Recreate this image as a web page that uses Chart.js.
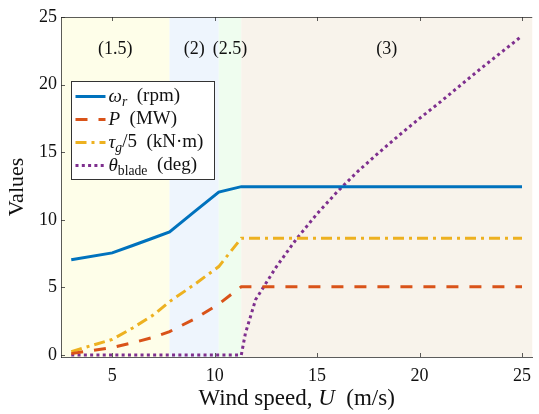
<!DOCTYPE html>
<html>
<head>
<meta charset="utf-8">
<script src="https://cdn.jsdelivr.net/npm/chart.js@4/dist/chart.umd.min.js"></script>
<style>
  html, body { margin: 0; padding: 0; background: #fff; }
  #wrap { position: relative; width: 539px; height: 414px; }
</style>
</head>
<body>
<div id="wrap"><canvas id="turbineChart" width="539" height="414"></canvas></div>
<script>
// dados
const windSpeed = [3, 5, 6, 7, 7.8, 9, 10.2, 11.3, 11.5, 12, 13, 14, 15, 16, 17, 18, 19, 20, 21, 22, 23, 24, 25];
const rotorSpeed = [7.05, 7.55, 8.1, 8.65, 9.1, 10.58, 12.05, 12.45, 12.45, 12.45, 12.45, 12.45, 12.45, 12.45, 12.45, 12.45, 12.45, 12.45, 12.45, 12.45, 12.45, 12.45, 12.45];
const power = [0.1, 0.55, 0.9, 1.3, 1.73, 2.65, 3.77, 5.05, 5.05, 5.05, 5.05, 5.05, 5.05, 5.05, 5.05, 5.05, 5.05, 5.05, 5.05, 5.05, 5.05, 5.05, 5.05];
const torque = [0.25, 1.15, 2.0, 2.95, 3.95, 5.2, 6.54, 8.64, 8.64, 8.64, 8.64, 8.64, 8.64, 8.64, 8.64, 8.64, 8.64, 8.64, 8.64, 8.64, 8.64, 8.64, 8.64];
const pitch = [0, 0, 0, 0, 0, 0, 0, 0, 1.6, 4.1, 6.5, 8.6, 10.45, 12.1, 13.6, 14.95, 16.25, 17.5, 18.7, 19.95, 21.2, 22.4, 23.6];

const xTicks = [5, 10, 15, 20, 25];
const yTicks = [0, 5, 10, 15, 20, 25];

const regionEdges = [2.5, 7.8, 10.2, 11.3, 25.5];
const regionNames = ['(1.5)', '(2)', '(2.5)', '(3)'];
const regionColors = ['#fefee9', '#eef5fd', '#effdef', '#f8f3eb'];

const FONT = "'Liberation Serif', 'DejaVu Serif', serif";
const AXIS_COLOR = 'rgba(38,38,38,0.75)';

const toPoints = ys => windSpeed.map((x, i) => ({ x, y: ys[i] }));

const series = [
    { label: 'ω_r (rpm)', data: rotorSpeed, color: '#0072bd', dash: [],
      parts: [{ t: 'ω', it: true }, { t: 'r', it: true, sub: true }, { t: '  (rpm)' }] },
    { label: 'P (MW)', data: power, color: '#d95319', dash: [12, 11],
      parts: [{ t: 'P', it: true }, { t: '  (MW)' }] },
    { label: 'τ_g/5 (kN·m)', data: torque, color: '#edb120', dash: [11, 5, 3, 5],
      parts: [{ t: 'τ', it: true }, { t: 'g', it: true, sub: true }, { t: '/5  (kN·m)' }] },
    { label: 'θ_blade (deg)', data: pitch, color: '#7e2f8e', dash: [3, 3.3],
      parts: [{ t: 'θ', it: true }, { t: 'blade', sub: true }, { t: '  (deg)' }] }
];

function drawRich(ctx, x, y, parts, size) {
    parts.forEach(p => {
        const s = p.sub ? size * 0.72 : size;
        ctx.font = (p.it ? 'italic ' : '') + s + 'px ' + FONT;
        ctx.fillText(p.t, x, y + (p.sub ? size * 0.3 : 0));
        x += ctx.measureText(p.t).width;
    });
    return x;
}

function richWidth(ctx, parts, size) {
    let w = 0;
    parts.forEach(p => {
        const s = p.sub ? size * 0.72 : size;
        ctx.font = (p.it ? 'italic ' : '') + s + 'px ' + FONT;
        w += ctx.measureText(p.t).width;
    });
    return w;
}

const decorPlugin = {
    id: 'decor',
    beforeDraw(chart) {
        const { ctx, chartArea: a, scales: { x } } = chart;
        ctx.save();
        for (let i = 0; i < regionNames.length; i++) {
            const x0 = x.getPixelForValue(regionEdges[i]);
            const x1 = x.getPixelForValue(regionEdges[i + 1]);
            ctx.fillStyle = regionColors[i];
            ctx.fillRect(x0, a.top, x1 - x0, a.bottom - a.top);
        }
        ctx.restore();
    },
    afterDraw(chart) {
        const { ctx, chartArea: a, scales: { x, y } } = chart;
        ctx.save();

        // borda de cima e ticks internos
        ctx.strokeStyle = AXIS_COLOR;
        ctx.lineWidth = 1;
        ctx.beginPath();
        ctx.moveTo(a.left, a.top + 0.5);
        ctx.lineTo(a.right, a.top + 0.5);
        xTicks.forEach(v => {
            const px = Math.round(x.getPixelForValue(v)) + 0.5;
            ctx.moveTo(px, a.bottom); ctx.lineTo(px, a.bottom - 4);
            ctx.moveTo(px, a.top); ctx.lineTo(px, a.top + 4);
        });
        yTicks.forEach(v => {
            const py = Math.round(y.getPixelForValue(v)) + 0.5;
            ctx.moveTo(a.left, py); ctx.lineTo(a.left + 4, py);
        });
        ctx.stroke();

        // rótulos das regiões
        ctx.fillStyle = '#111';
        ctx.font = '18px ' + FONT;
        ctx.textAlign = 'center';
        ctx.textBaseline = 'middle';
        for (let i = 0; i < regionNames.length; i++) {
            const cx = x.getPixelForValue((regionEdges[i] + regionEdges[i + 1]) / 2);
            ctx.fillText(regionNames[i], cx, y.getPixelForValue(22.6));
        }

        // legenda
        const bx = a.left + 10.5, by = a.top + 64.5, bw = 143, bh = 98;
        ctx.fillStyle = '#fff';
        ctx.fillRect(bx, by, bw, bh);
        ctx.strokeStyle = '#333';
        ctx.lineWidth = 1;
        ctx.strokeRect(bx, by, bw, bh);
        ctx.textAlign = 'left';
        ctx.textBaseline = 'middle';
        series.forEach((s, i) => {
            const ly = by + 15 + i * 23;
            ctx.strokeStyle = s.color;
            ctx.lineWidth = 3;
            ctx.setLineDash(s.dash);
            ctx.beginPath();
            ctx.moveTo(bx + 4, ly);
            ctx.lineTo(bx + 34, ly);
            ctx.stroke();
            ctx.setLineDash([]);
            ctx.fillStyle = '#111';
            drawRich(ctx, bx + 37, ly, s.parts, 19);
        });

        // títulos dos eixos
        ctx.fillStyle = '#111';
        ctx.textBaseline = 'middle';
        const xt = [{ t: 'Wind speed, ' }, { t: 'U', it: true }, { t: '  (m/s)' }];
        const w = richWidth(ctx, xt, 23);
        drawRich(ctx, (a.left + a.right) / 2 - w / 2, 399, xt, 23);

        ctx.translate(17, (a.top + a.bottom) / 2);
        ctx.rotate(-Math.PI / 2);
        ctx.textAlign = 'center';
        ctx.font = '22px ' + FONT;
        ctx.fillText('Values', 0, 0);
        ctx.restore();
    }
};

new Chart(document.getElementById('turbineChart'), {
    type: 'line',
    data: {
        datasets: series.map(s => ({
            label: s.label,
            data: toPoints(s.data),
            borderColor: s.color,
            borderWidth: 3,
            borderDash: s.dash,
            borderCapStyle: 'butt',
            pointRadius: 0,
            fill: false,
            tension: 0
        }))
    },
    options: {
        responsive: false,
        animation: false,
        layout: { padding: { top: 17, right: 0, left: 0, bottom: 0 } },
        plugins: { legend: { display: false }, tooltip: { enabled: false } },
        scales: {
            x: {
                type: 'linear',
                min: 2.5,
                max: 25.5,
                afterBuildTicks: s => { s.ticks = xTicks.map(v => ({ value: v })); },
                afterFit: s => { s.height = 57; },
                grid: { display: false, drawTicks: false },
                border: { display: true, color: AXIS_COLOR },
                ticks: { color: '#111', padding: 8, maxRotation: 0, font: { family: FONT, size: 18 } }
            },
            y: {
                min: -0.15,
                max: 25,
                afterBuildTicks: s => { s.ticks = yTicks.map(v => ({ value: v })); },
                afterFit: s => { s.width = 61; },
                grid: { display: false, drawTicks: false },
                border: { display: true, color: AXIS_COLOR },
                ticks: { color: '#111', padding: 4, font: { family: FONT, size: 18 } }
            }
        }
    },
    plugins: [decorPlugin]
});
</script>
</body>
</html>
